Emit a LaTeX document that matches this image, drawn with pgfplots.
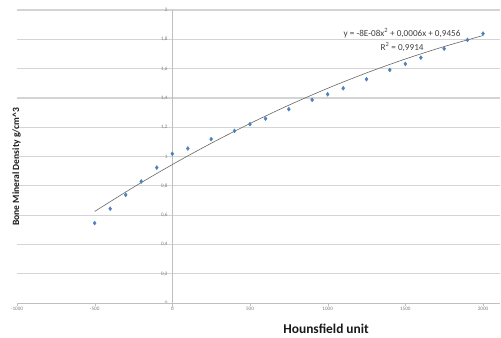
\documentclass[border=0pt]{standalone}
\usepackage{fontspec}
\setmainfont{Carlito}
\usepackage{pgfplots}
\pgfplotsset{compat=1.18}
\definecolor{ptblue}{HTML}{4F81BD}
\definecolor{gridgray}{HTML}{D4D4D4}
\definecolor{axgray}{HTML}{BFBFBF}
\definecolor{ticktxt}{HTML}{7F7F7F}
\definecolor{eqtxt}{HTML}{404040}

\begin{document}
\begin{tikzpicture}
\begin{axis}[
  name=ax,
  scale only axis,
  width=484bp, height=293.5bp,
  xmin=-1000, xmax=2112, ymin=0, ymax=2,
  clip=false,
  axis line style={draw=none},
  xtick={-1000,-500,0,500,1000,1500,2000},
  ytick={0,0.2,0.4,0.6,0.8,1,1.2,1.4,1.6,1.8,2},
  xtick pos=bottom, ytick pos=left,
  tick align=outside,
  major tick length=2.5bp,
  xtick style={axgray},
  ytick style={draw=none},
  ymajorgrids,
  grid style={gridgray, line width=1.2bp},
  scaled ticks=false,
  /pgf/number format/assume math mode=true,
  /pgf/number format/use comma,
  /pgf/number format/1000 sep={},
  tick label style={font=\fontsize{5.2}{6}\selectfont, text=ticktxt},
  yticklabel style={anchor=east, xshift=155bp, inner sep=1.5bp},
  xticklabel style={inner sep=1.5bp},
]
% axis lines crossing at the origin
\draw[axgray, line width=0.6bp] (axis cs:0,-0.03) -- (axis cs:0,2);
\draw[axgray, line width=0.8bp] (axis cs:-1000,0) -- (axis cs:2112,0);

% measurements
\addplot[only marks, mark=diamond*, mark size=2bp, color=ptblue] coordinates {
  (-500,0.546) (-400,0.644) (-300,0.739) (-200,0.830) (-100,0.925)
  (0,1.019) (100,1.055) (250,1.119) (400,1.175) (500,1.221)
  (600,1.259) (750,1.323) (900,1.387) (1000,1.425) (1100,1.466)
  (1250,1.528) (1400,1.591) (1500,1.632) (1600,1.675) (1750,1.736)
  (1900,1.796) (2000,1.839)
};

% quadratic trend line y = -8E-08x^2 + 0,0006x + 0,9456
\addplot[smooth, color=black!60, line width=0.6bp] coordinates {
  (-500,0.6256) (-250,0.7906) (0,0.9456) (250,1.0906) (500,1.2256)
  (750,1.3506) (1000,1.4656) (1250,1.5706) (1500,1.6656)
  (1750,1.7506) (2000,1.8256)
};

\node[font=\fontsize{9.2}{10}\selectfont, text=eqtxt] at (axis cs:1479,1.843)
  {y = -8E-08x\textsuperscript{2} + 0,0006x + 0,9456};
\node[font=\fontsize{9.2}{10}\selectfont, text=eqtxt] at (axis cs:1479,1.748)
  {R\textsuperscript{2} = 0,9914};

\node[font=\bfseries\fontsize{13.5}{15}\selectfont, text=black!90] at (axis cs:990,-0.175)
  {Hounsfield unit};
\node[font=\bfseries\fontsize{9.6}{11}\selectfont, text=black!90, rotate=90] at (axis cs:-1003,0.93)
  {Bone Mineral Density g/cm\^{}3};
\end{axis}
\path[use as bounding box] ([xshift=-17bp,yshift=-34.5bp]ax.south west) rectangle ([yshift=10bp]ax.north east);
\end{tikzpicture}
\end{document}
